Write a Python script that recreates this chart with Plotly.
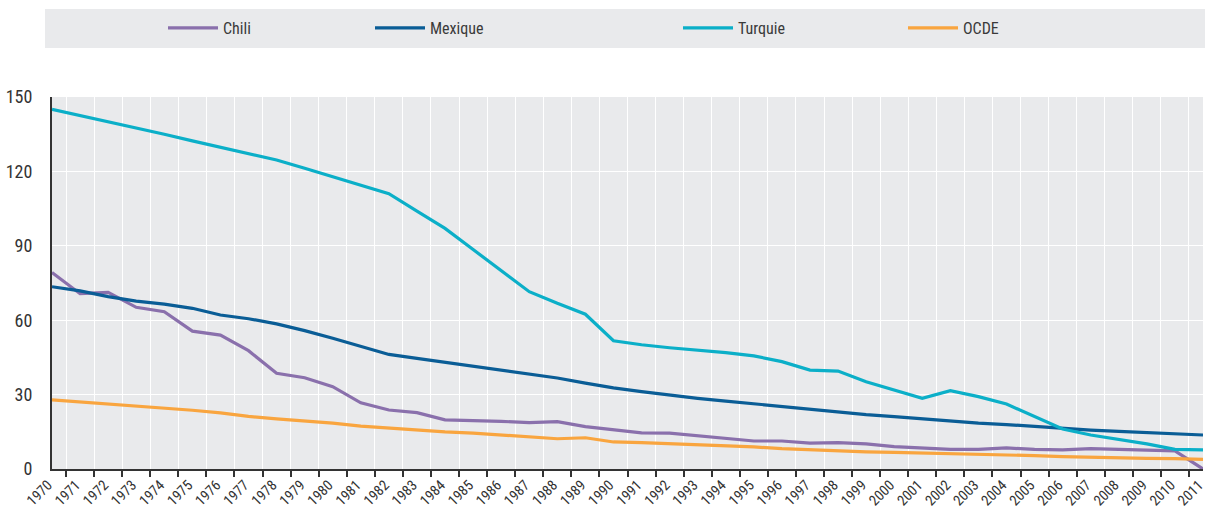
import plotly.graph_objects as go

years = [str(y) for y in range(1970, 2012)]

chili = [79.2, 70.7, 71.2, 65.2, 63.4, 55.6, 54.0, 47.7, 38.6, 36.8, 33.2, 26.7, 23.8,
         22.7, 19.8, 19.6, 19.2, 18.7, 19.1, 17.1, 16.0, 14.6, 14.5, 13.4, 12.2, 11.3, 11.3,
         10.4, 10.6, 10.1, 9.0, 8.3, 7.9, 7.9, 8.5, 7.9, 7.7, 8.2, 7.9, 7.8, 7.3, 0.0]

mexique = [73.5, 71.8, 69.5, 67.7, 66.5, 64.8, 62.1, 60.6, 58.5, 55.8, 52.7, 49.3, 46.2,
           44.6, 43.0, 41.7, 39.9, 38.3, 36.7, 34.6, 32.7, 31.2, 29.7, 28.5, 27.4, 26.3, 25.1,
           24.1, 22.9, 21.9, 21.1, 20.2, 19.4, 18.5, 17.9, 17.1, 16.4, 15.7, 15.2, 14.8, 14.2, 13.7]

turquie = [145.0, 142.5, 140.0, 137.8, 135.0, 132.3, 129.7, 127.2, 124.6, 121.3, 117.8, 114.5, 111.0,
           104.0, 97.0, 88.5, 80.0, 71.5, 66.8, 62.4, 51.7, 50.1, 48.9, 48.0, 46.9, 45.6, 43.3,
           39.9, 39.5, 35.2, 31.9, 28.5, 31.6, 29.2, 26.2, 21.1, 16.1, 13.7, 12.0, 10.1, 7.9, 7.7]

ocde = [27.9, 27.1, 26.1, 25.5, 24.6, 23.7, 22.6, 21.2, 20.2, 19.4, 18.5, 17.3, 16.5,
        15.7, 15.0, 14.5, 13.7, 13.2, 12.2, 12.6, 10.9, 10.6, 10.2, 9.7, 9.3, 8.9, 8.2,
        7.7, 7.3, 6.9, 6.7, 6.5, 6.2, 5.9, 5.6, 5.4, 5.0, 4.7, 4.4, 4.3, 4.2, 3.9]

series = [
    ("Chili", chili, "#8A70AC", "legend"),
    ("Mexique", mexique, "#0A5D96", "legend2"),
    ("Turquie", turquie, "#0BAFC8", "legend3"),
    ("OCDE", ocde, "#F9A53F", "legend4"),
]
legend_px = [171, 378, 686, 911]

FONT = "Liberation Sans Narrow, Arial Narrow, Roboto Condensed, Liberation Sans, sans-serif"
W, H = 1205, 511

fig = go.Figure()
for name, vals, col, lg in series:
    fig.add_trace(go.Scatter(x=years, y=vals, mode="lines", name=name,
                             line=dict(color=col, width=3.2), legend=lg))

legends = {}
for (name, vals, col, lg), px in zip(series, legend_px):
    legends[lg] = dict(x=(px - 8) / W, xref="container", y=1 - 28 / H, yref="container",
                       xanchor="left", yanchor="middle", bgcolor="rgba(0,0,0,0)",
                       font=dict(family=FONT, size=16, color="#3a3a3a"),
                       itemwidth=50, orientation="h")

fig.update_layout(
    width=W, height=H,
    margin=dict(l=52, r=2, t=97, b=42, autoexpand=False),
    paper_bgcolor="white",
    plot_bgcolor="#E9EAEC",
    font=dict(family=FONT, size=16, color="#333333"),
    showlegend=True,
    **legends,
    shapes=[dict(type="rect", xref="paper", yref="paper",
                 x0=(45 - 52) / 1151, x1=(1205 - 52) / 1151,
                 y0=(469 - 48) / 372, y1=(469 - 9) / 372,
                 fillcolor="#E9EAEC", line=dict(width=0), layer="below")],
)

fig.update_xaxes(type="category", tickson="boundaries", ticks="outside", ticklen=6,
                 tickcolor="#333333", tickwidth=1.5, tickangle=-45, automargin=False,
                 ticklabelshift=-4,
                 showgrid=True, gridcolor="white", gridwidth=1,
                 showline=True, linecolor="#333333", linewidth=2,
                 tickfont=dict(family=FONT, size=14.5, color="#333333"))
fig.update_yaxes(range=[0, 150], tickvals=[0, 30, 60, 90, 120, 150], ticks="",
                 ticklabelstandoff=14, automargin=False,
                 showgrid=True, gridcolor="white", gridwidth=1, zeroline=False,
                 showline=True, linecolor="#333333", linewidth=2,
                 tickfont=dict(family=FONT, size=18, color="#333333"))

fig.write_html("out.html", config={"displayModeBar": False},
               post_script="document.body.style.margin='0';document.body.style.overflow='hidden';")
